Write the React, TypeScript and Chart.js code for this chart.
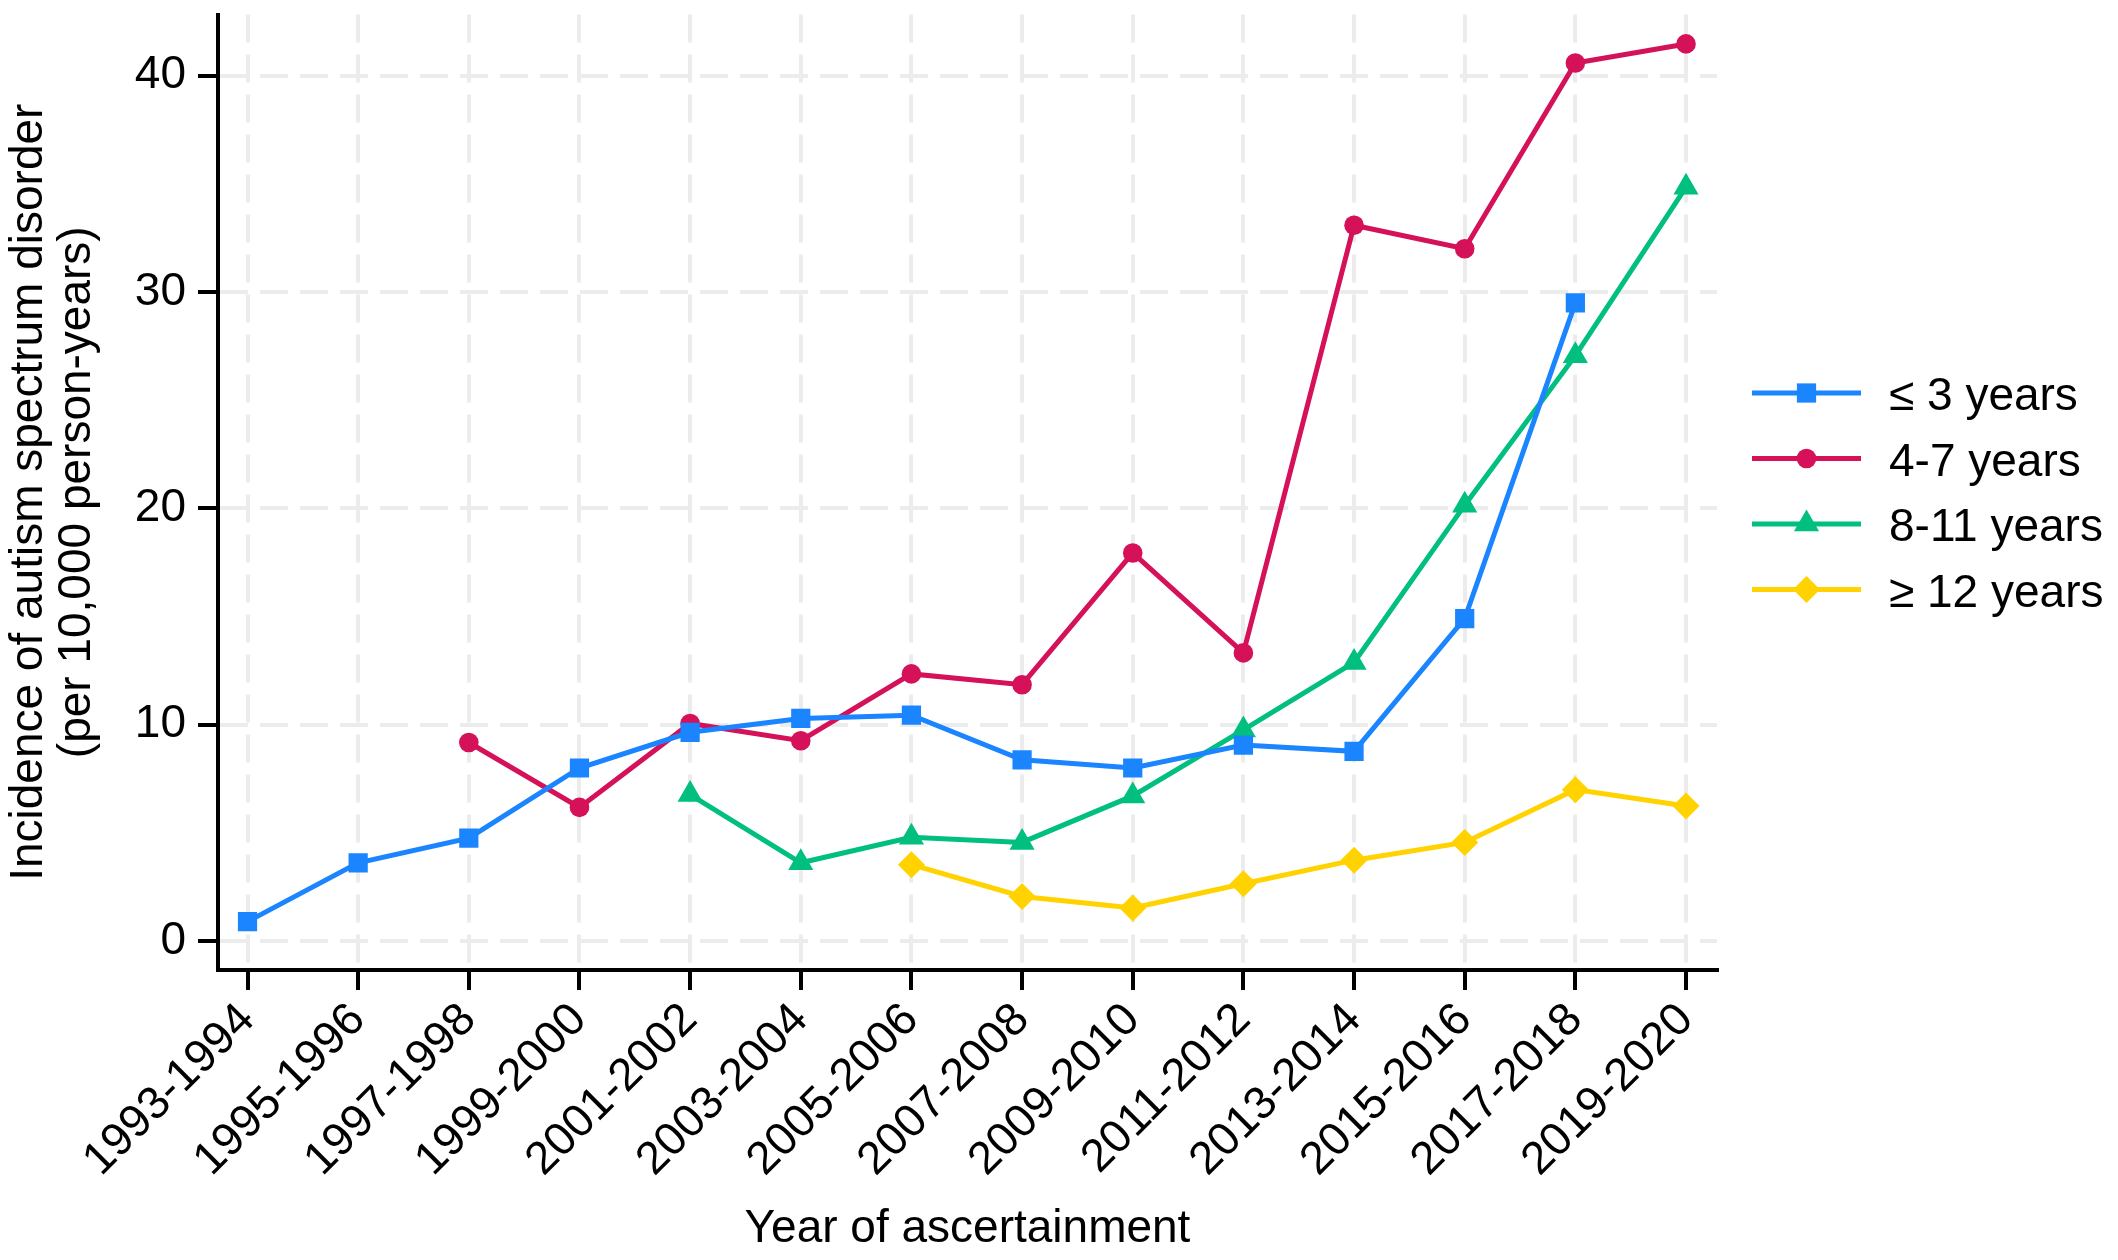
import React, { useEffect, useRef } from 'react';
import { Chart, registerables } from 'chart.js';

Chart.register(...registerables);

const periods = [
  '1993-1994', '1995-1996', '1997-1998', '1999-2000', '2001-2002', '2003-2004', '2005-2006',
  '2007-2008', '2009-2010', '2011-2012', '2013-2014', '2015-2016', '2017-2018', '2019-2020',
];
const seriesNames = ['≤ 3 years', '4-7 years', '8-11 years', '≥ 12 years'];
const under3 = [0.9, 3.62, 4.76, 8.0, 9.65, 10.29, 10.44, 8.38, 8.0, 9.06, 8.77, 14.91, 29.5, null];
const age4to7 = [null, null, 9.18, 6.18, 10.06, 9.26, 12.35, 11.85, 17.94, 13.32, 33.09, 32.0, 40.59, 41.47];
const age8to11 = [null, null, null, null, 6.77, 3.62, 4.8, 4.56, 6.71, 9.76, 12.88, 20.15, 27.06, 34.85];
const age12plus = [null, null, null, null, null, null, 3.53, 2.06, 1.53, 2.65, 3.74, 4.56, 7.0, 6.24];
const yTicks = [0, 10, 20, 30, 40];

const colors = ['#1A85FF', '#D41159', '#00BF7F', '#FFD200'];
const markers = ['rect', 'circle', 'triangle', 'rectRot'];
const radii = [13.6, 9.8, 14.5, 13.5];
const FONT = "'Liberation Sans', Arial, Helvetica, sans-serif";

function drawMarker(ctx: CanvasRenderingContext2D, style: string, x: number, y: number, r: number, color: string) {
  ctx.save();
  ctx.fillStyle = color;
  ctx.beginPath();
  if (style === 'rect') {
    const s = r * Math.SQRT1_2;
    ctx.rect(x - s, y - s, 2 * s, 2 * s);
  } else if (style === 'circle') {
    ctx.arc(x, y, r, 0, Math.PI * 2);
  } else if (style === 'triangle') {
    for (let k = 0; k < 3; k++) {
      const a = -Math.PI / 2 + (k * 2 * Math.PI) / 3;
      const px = x + Math.cos(a) * r;
      const py = y + Math.sin(a) * r;
      if (k === 0) ctx.moveTo(px, py); else ctx.lineTo(px, py);
    }
    ctx.closePath();
  } else {
    ctx.moveTo(x, y - r);
    ctx.lineTo(x + r, y);
    ctx.lineTo(x, y + r);
    ctx.lineTo(x - r, y);
    ctx.closePath();
  }
  ctx.fill();
  ctx.restore();
}

const legendPlugin = {
  id: 'sideLegend',
  afterDraw(chart: any) {
    const ctx = chart.ctx as CanvasRenderingContext2D;
    const x0 = 1752;
    const x1 = 1861;
    const tx = 1889;
    const y0 = 393;
    const step = 65.5;
    seriesNames.forEach((name, i) => {
      const y = y0 + i * step;
      ctx.save();
      ctx.strokeStyle = colors[i];
      ctx.lineWidth = 5;
      ctx.beginPath();
      ctx.moveTo(x0, y);
      ctx.lineTo(x1, y);
      ctx.stroke();
      ctx.restore();
      drawMarker(ctx, markers[i], (x0 + x1) / 2, y, radii[i], colors[i]);
      ctx.save();
      ctx.fillStyle = '#000';
      ctx.font = `46px ${FONT}`;
      ctx.textAlign = 'left';
      ctx.textBaseline = 'alphabetic';
      ctx.fillText(name, tx, y + 17);
      ctx.restore();
    });
  },
};

export default function App() {
  const ref = useRef<HTMLCanvasElement | null>(null);

  useEffect(() => {
    if (!ref.current) return;
    const seriesData = [under3, age4to7, age8to11, age12plus];
    const chart = new Chart(ref.current, {
      type: 'line',
      data: {
        datasets: seriesData.map((vals, i) => ({
          label: seriesNames[i],
          data: vals.map((v, k) => ({ x: k, y: v })),
          borderColor: colors[i],
          backgroundColor: colors[i],
          borderWidth: 5,
          pointStyle: markers[i] as any,
          pointRadius: radii[i],
          pointHoverRadius: radii[i],
          pointBackgroundColor: colors[i],
          pointBorderColor: colors[i],
          pointBorderWidth: 0,
          tension: 0,
          fill: false,
          spanGaps: false,
        })),
      },
      options: {
        responsive: false,
        animation: false,
        events: [],
        layout: { padding: { top: 12, right: 401, left: 0, bottom: 0 } },
        plugins: {
          legend: { display: false },
          tooltip: { enabled: false },
        },
        scales: {
          x: {
            type: 'linear',
            min: -0.2666,
            max: 13.28,
            afterBuildTicks: (scale: any) => {
              scale.ticks = periods.map((_, i) => ({ value: i }));
            },
            afterFit: (scale: any) => {
              scale.height = 290;
              scale.paddingLeft = 0;
              scale.paddingRight = 0;
            },
            ticks: {
              autoSkip: false,
              minRotation: 45,
              maxRotation: 45,
              padding: 3,
              color: '#000',
              font: { family: FONT, size: 46 },
              callback: (v: any) => periods[Math.round(Number(v))] ?? '',
            },
            grid: {
              color: '#ECECEC',
              lineWidth: 4,
              tickColor: '#000',
              tickWidth: 4,
              tickLength: 20,
            },
            border: { display: true, color: '#000', width: 4, dash: [28, 12] },
            title: {
              display: true,
              text: 'Year of ascertainment',
              color: '#000',
              font: { family: FONT, size: 46, lineHeight: 1.05 },
              padding: { top: 0, bottom: 7 },
            },
          },
          y: {
            type: 'linear',
            min: -1.337,
            max: 42.83,
            afterBuildTicks: (scale: any) => {
              scale.ticks = yTicks.map((v) => ({ value: v }));
            },
            afterFit: (scale: any) => {
              scale.width = 218;
              scale.paddingTop = 0;
              scale.paddingBottom = 0;
            },
            ticks: {
              padding: 12,
              color: '#000',
              font: { family: FONT, size: 46 },
              callback: (v: any) => String(v),
            },
            grid: {
              color: '#ECECEC',
              lineWidth: 4,
              tickColor: '#000',
              tickWidth: 4,
              tickLength: 20,
            },
            border: { display: true, color: '#000', width: 4, dash: [28, 12] },
            title: {
              display: true,
              text: ['Incidence of autism spectrum disorder', '(per 10,000 person-years)'],
              color: '#000',
              font: { family: FONT, size: 46, lineHeight: 1.05 },
              padding: { top: 5, bottom: 0 },
            },
          },
        },
      },
      plugins: [legendPlugin],
    });
    return () => chart.destroy();
  }, []);

  return (
    <div style={{ position: 'fixed', left: 0, top: 0, width: 2118, height: 1260, background: '#fff' }}>
      <canvas ref={ref} width={2118} height={1260} style={{ display: 'block', width: 2118, height: 1260 }} />
    </div>
  );
}
